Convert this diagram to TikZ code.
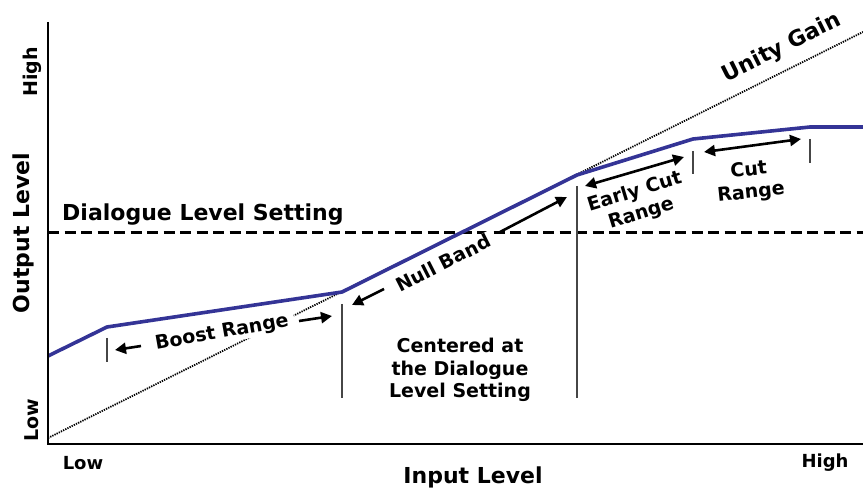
\documentclass[tikz,border=0pt]{standalone}
\usepackage{fontspec}
\setmainfont{DejaVu Sans}
\usetikzlibrary{arrows.meta}
\definecolor{curveblue}{RGB}{52,52,150}
\definecolor{markgray}{RGB}{70,70,70}
\tikzset {
  x=1pt, y=-1pt,
  % axes of the plot
  axis/.style = {line width=1.6pt},
  % unity gain reference
  unity/.style = {line width=1.8pt, dash pattern=on 1.3pt off 1.1pt},
  % dialogue level setting
  level/.style = {line width=3pt, dash pattern=on 11pt off 5.5pt},
  % the gain curve
  gaincurve/.style = {curveblue, line width=3.6pt, line join=round},
  % marks at the range limits
  rangemark/.style = {markgray, line width=1.2pt},
  % arrows along the ranges
  span/.style = {-{Triangle[length=11pt,width=11pt]}, line width=2.6pt},
  bispan/.style = {{Triangle[length=11pt,width=11pt]}-{Triangle[length=11pt,width=11pt]}, line width=2.6pt},
  % text
  lbl/.style = {font=\bfseries\fontsize{19}{22.5}\selectfont, align=center, inner sep=1pt},
  big/.style = {font=\bfseries\fontsize{22}{26}\selectfont, inner sep=1pt},
  wipe/.style = {fill=white, inner xsep=6pt},
}

\begin{document}
\begin{tikzpicture}
        \useasboundingbox (0,0) rectangle (863,489);

        % axes
        \coordinate (o) at (48,444);
        \coordinate (ytop) at (48,22);
        \coordinate (xend) at (863,444);
        % reference lines
        \coordinate (u0) at (48,438);
        \coordinate (u1) at (863,32);
        \coordinate (d0) at (48,233);
        \coordinate (d1) at (863,233);
        % knees of the curve
        \coordinate (k0) at (48,356);
        \coordinate (k1) at (107,327);
        \coordinate (k2) at (342,292);
        \coordinate (k3) at (577,175);
        \coordinate (k4) at (693,139);
        \coordinate (k5) at (810,127);
        \coordinate (k6) at (863,127);

        \draw [unity] (u0) -- (u1);
        \draw [level] (d0) -- (d1);

        % range marks
        \draw [rangemark] (107,338) coordinate (m1a) -- (107,362) coordinate (m1b);
        \draw [rangemark] (342,304) coordinate (m2a) -- (342,398) coordinate (m2b);
        \draw [rangemark] (577,186) coordinate (m3a) -- (577,398) coordinate (m3b);
        \draw [rangemark] (693,151) coordinate (m4a) -- (693,174) coordinate (m4b);
        \draw [rangemark] (810,139) coordinate (m5a) -- (810,163) coordinate (m5b);

        % labels
        \node[lbl, wipe, rotate=10] (boost) at (222,333) {Boost Range};
        \node[lbl, wipe, rotate=27, inner xsep=3pt] (null) at (443,263) {Null Band};
        \node[lbl, rotate=17] (early) at (638,203) {Early Cut\\Range};
        \node[lbl, rotate=6] (cut) at (750,182) {Cut\\Range};
        \node[lbl] (center) at (460,370) {Centered at\\the Dialogue\\Level Setting};
        \node[big, rotate=26.5] (gain) at (782,48) {Unity Gain};
        \node[big, anchor=west] (dls) at (61,215) {Dialogue Level Setting};
        \node[big, rotate=90] (out) at (23,233) {Output Level};
        \node[lbl, rotate=90] (yhigh) at (32,72) {High};
        \node[lbl, rotate=90] (ylow) at (32,420) {Low};
        \node[lbl, font=\bfseries\fontsize{18}{22}\selectfont] (xlow) at (83,463) {Low};
        \node[lbl, font=\bfseries\fontsize{18}{22}\selectfont] (xhigh) at (825,463) {High};
        \node[big] (in) at (473,477) {Input Level};

        % range arrows
        \coordinate (b0) at (141,346);
        \coordinate (b1) at (115,350);
        \coordinate (b2) at (299,321);
        \coordinate (b3) at (332,316);
        \coordinate (n0) at (384,289);
        \coordinate (n1) at (352,305);
        \coordinate (n2) at (500,232);
        \coordinate (n3) at (567,197);
        \coordinate (e0) at (585,186);
        \coordinate (e1) at (684,157);
        \coordinate (c0) at (704,152);
        \coordinate (c1) at (801,139);
        \draw [span] (b0) -- (b1);
        \draw [span] (b2) -- (b3);
        \draw [span] (n0) -- (n1);
        \draw [span] (n2) -- (n3);
        \draw [bispan] (e0) -- (e1);
        \draw [bispan] (c0) -- (c1);

        \draw [gaincurve] (k0) -- (k1) -- (k2) -- (k3) -- (k4) -- (k5) -- (k6);
        \draw [axis] (ytop) -- (o) -- (xend);
      \end{tikzpicture}
\end{document}
